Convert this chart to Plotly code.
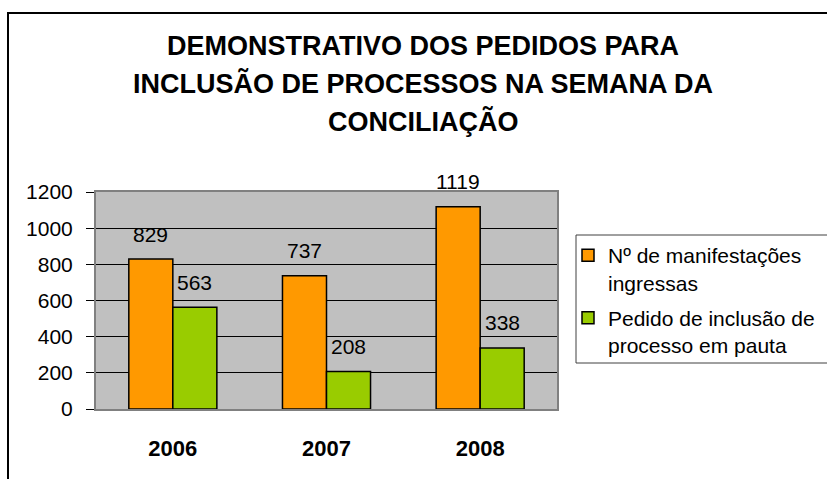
import plotly.graph_objects as go

years = [2006, 2007, 2008]
manifestacoes = [829, 737, 1119]
pedidos = [563, 208, 338]
series_names = ["Nº de manifestações<br>ingressas", "Pedido de inclusão de<br>processo em pauta"]
y_ticks = [0, 200, 400, 600, 800, 1000, 1200]
title_lines = ["DEMONSTRATIVO DOS PEDIDOS PARA", "INCLUSÃO DE PROCESSOS NA SEMANA DA", "CONCILIAÇÃO"]

ORANGE = "#FF9900"
GREEN = "#99CC00"
FONT = "Liberation Sans, Arial, sans-serif"

fig = go.Figure()
fig.add_trace(go.Bar(x=years, y=manifestacoes, name=series_names[0], legendgroup="a",
                     marker=dict(color=ORANGE, line=dict(color="black", width=1.5))))
fig.add_trace(go.Bar(x=years, y=pedidos, name=series_names[1], legendgroup="b",
                     marker=dict(color=GREEN, line=dict(color="black", width=1.5))))

annotations = []
for yr, v in zip(years, manifestacoes):
    annotations.append(dict(x=yr, y=v, text=str(v), showarrow=False, xshift=-22, yshift=25,
                            yanchor="middle", font=dict(size=21, color="black", family=FONT)))
for yr, v in zip(years, pedidos):
    annotations.append(dict(x=yr, y=v, text=str(v), showarrow=False, xshift=22, yshift=25,
                            yanchor="middle", font=dict(size=21, color="black", family=FONT)))

L, R, T, B = 96, 270, 192, 70
W, H = 827, 479
pw, ph = W - L - R, H - T - B

def px_x(p):
    return (p - L) / pw

def px_y(p):
    return (H - B - p) / ph

for line, ypx in zip(title_lines, [46, 84, 121]):
    annotations.append(dict(xref="paper", yref="paper", x=px_x(423), y=px_y(ypx),
                            text=line, showarrow=False,
                            xanchor="center", yanchor="middle", align="center",
                            font=dict(size=27, color="black", family=FONT, weight="bold")))

shapes = [
    dict(type="rect", xref="paper", yref="paper", x0=px_x(8), x1=px_x(840),
         y0=px_y(490), y1=px_y(13), line=dict(color="black", width=2), layer="below"),
    dict(type="rect", xref="paper", yref="paper", x0=px_x(576), x1=px_x(840),
         y0=px_y(363), y1=px_y(235), line=dict(color="#404040", width=1), layer="below"),
]

fig.update_layout(
    width=W, height=H,
    margin=dict(l=L, r=R, t=T, b=B, pad=0, autoexpand=False),
    paper_bgcolor="white", plot_bgcolor="#C0C0C0",
    barmode="group", bargap=0.427, bargroupgap=0,
    font=dict(family=FONT, size=21, color="black"),
    showlegend=True,
    legend=dict(x=px_x(568), y=px_y(235), xanchor="left", yanchor="top",
                bgcolor="rgba(0,0,0,0)", borderwidth=0, valign="top",
                tracegroupgap=5, font=dict(size=21, family=FONT, color="black"),
                traceorder="grouped"),
    annotations=annotations, shapes=shapes,
    xaxis=dict(type="linear", range=[years[0] - 0.5, years[-1] + 0.5], tickvals=years,
               ticktext=[str(y) for y in years],
               showgrid=False, showline=True, linecolor="#808080", linewidth=2,
               mirror=True, ticks="", ticklabelstandoff=19, zeroline=False,
               tickfont=dict(size=22, family=FONT, color="black", weight="bold")),
    yaxis=dict(range=[0, 1200], tickvals=y_ticks, showgrid=True, gridcolor="black", gridwidth=1,
               zeroline=False, showline=True, linecolor="#808080", linewidth=2, mirror=True,
               ticks="outside", ticklen=8, tickcolor="black", tickwidth=1, ticklabelstandoff=9,
               tickfont=dict(size=21, family=FONT, color="black")),
)

fig.write_html("out.html", config={"displayModeBar": False},
               post_script="document.body.style.margin='0';")
